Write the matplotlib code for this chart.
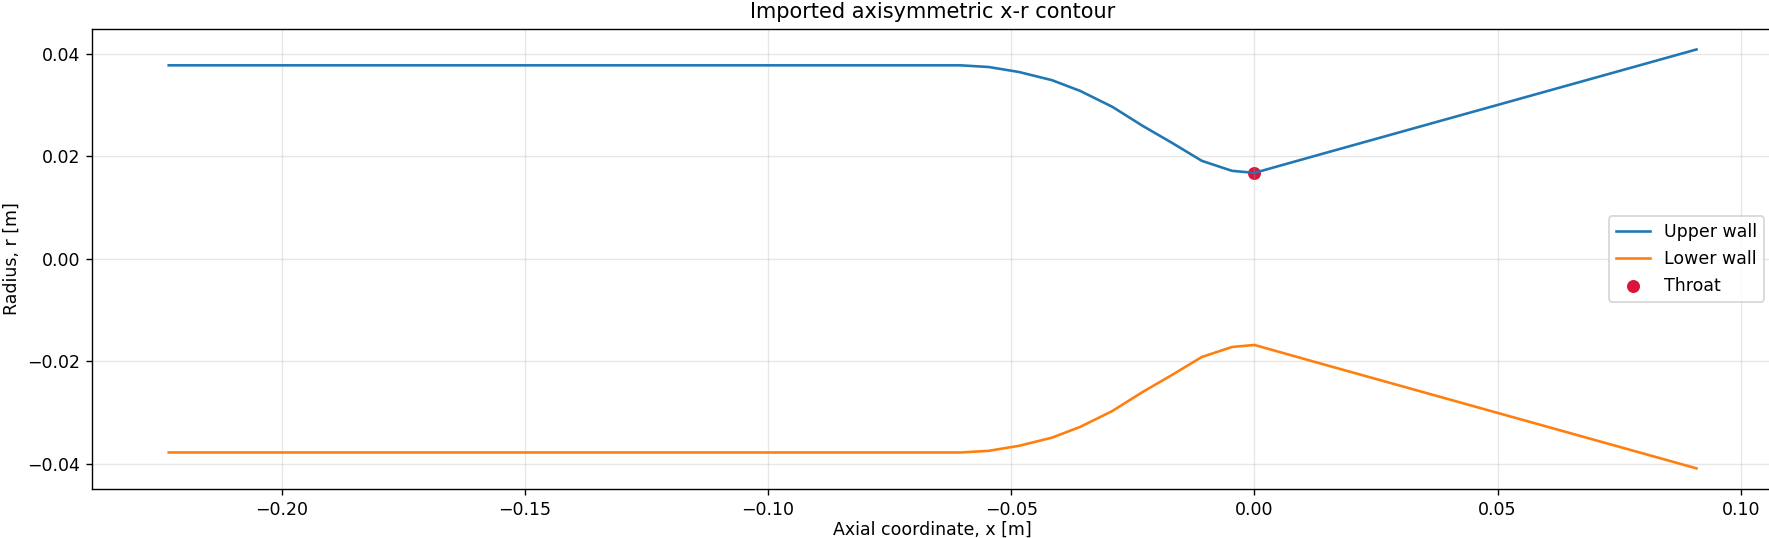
import numpy as np
import matplotlib
matplotlib.use('Agg')
import matplotlib.pyplot as plt
from matplotlib.ticker import MultipleLocator

# contour points
x_wall = [-0.2232, -0.0604, -0.0546, -0.0484, -0.0416, -0.0358, -0.0292,
          -0.0230, -0.0170, -0.0108, -0.0046, 0.0, 0.0120, 0.0909]
r_upper = [0.0378, 0.0378, 0.03747, 0.0365, 0.0349, 0.0328, 0.0297,
           0.0260, 0.0227, 0.01915, 0.0172, 0.0168, 0.0200, 0.0409]
r_lower = [-0.0378, -0.0378, -0.03747, -0.0365, -0.0349, -0.0328, -0.0297,
           -0.0260, -0.0227, -0.01915, -0.0172, -0.0168, -0.0200, -0.0409]
x_throat = [0.0]
r_throat = [0.0168]

dpi = 125
fig = plt.figure(figsize=(1769 / dpi, 538 / dpi), dpi=dpi)
ax = fig.add_axes([0.0522, 0.0905, 0.950, 0.8565])

ax.plot(x_wall, r_upper, label='Upper wall')
ax.plot(x_wall, r_lower, label='Lower wall')
ax.scatter(x_throat, r_throat, color='crimson', s=42, label='Throat')

ax.yaxis.set_major_locator(MultipleLocator(0.02))
ax.set_xlabel('Axial coordinate, x [m]', labelpad=1)
ax.set_ylabel('Radius, r [m]')
ax.set_title('Imported axisymmetric x-r contour')
ax.grid(True, alpha=0.3)
ax.legend(loc='center right')

fig.savefig('out.png', dpi=dpi)
